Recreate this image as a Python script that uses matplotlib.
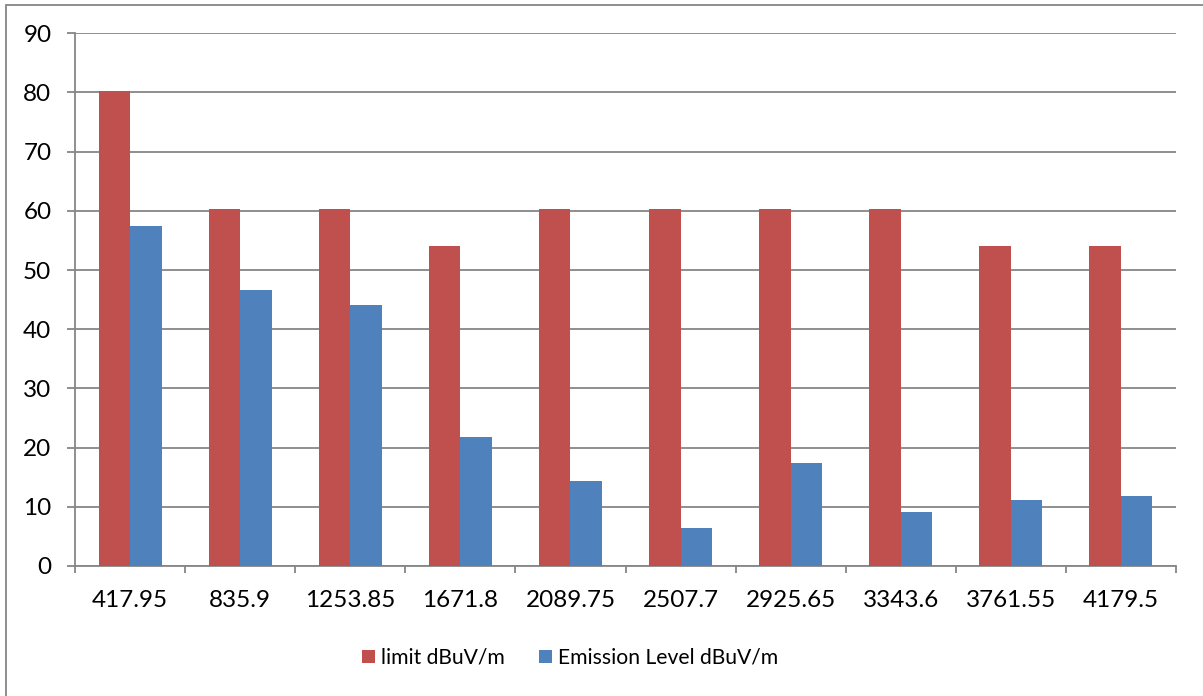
import numpy as np
import matplotlib
matplotlib.use('Agg')
import matplotlib.pyplot as plt
from matplotlib.patches import Rectangle

plt.rcParams['font.family'] = ['Lato', 'DejaVu Sans']

freqs = ['417.95', '835.9', '1253.85', '1671.8', '2089.75',
         '2507.7', '2925.65', '3343.6', '3761.55', '4179.5']
limit = [80.3, 60.3, 60.3, 54.0, 60.3, 60.3, 60.3, 60.3, 54.0, 54.0]
emission = [57.4, 46.7, 44.1, 21.8, 14.4, 6.5, 17.4, 9.1, 11.1, 11.9]

red = '#C0504D'
blue = '#4F81BD'
grey = '#868686'
fs = 17.5

fig = plt.figure(figsize=(12.03, 6.96), dpi=100)
ax = fig.add_axes([75 / 1203, 1 - 566 / 696, (1176 - 75) / 1203, (566 - 33.3) / 696])

# chart frame, cut off on the right and bottom
fig.patches.append(Rectangle((6 / 1203, -0.1), 1.2, 1 - 4.5 / 696 + 0.1,
                             transform=fig.transFigure, fill=False,
                             edgecolor=grey, linewidth=1.3))

x = np.arange(len(freqs))
w = 1 / 3.5
ax.bar(x - w / 2, limit, w, color=red, label='limit dBuV/m', zorder=3)
ax.bar(x + w / 2, emission, w, color=blue, label='Emission Level dBuV/m', zorder=3)

ax.set_xlim(-0.5, len(freqs) - 0.5)
ax.set_ylim(0, 90)
ax.set_yticks(range(0, 91, 10))
ax.set_xticks(x)
ax.set_xticklabels(freqs)
ax.set_xticks(np.arange(-0.5, len(freqs)), minor=True)
ax.tick_params(axis='x', which='major', length=0, pad=17, labelsize=fs)
ax.tick_params(axis='x', which='minor', length=5, width=1.3, color=grey)
ax.tick_params(axis='y', length=6, width=1.3, color=grey, pad=11, labelsize=fs)
ax.yaxis.grid(True, color=grey, linewidth=1.3, zorder=0)
for s in ['top', 'right']:
    ax.spines[s].set_visible(False)
for s in ['left', 'bottom']:
    ax.spines[s].set_color(grey)
    ax.spines[s].set_linewidth(1.3)
ax.set_axisbelow(True)

fig.legend(loc='center', bbox_to_anchor=(570 / 1203, 1 - 658 / 696), ncol=2,
           frameon=False, fontsize=15.2, handlelength=0.62, handleheight=0.62,
           handletextpad=0.28, columnspacing=1.66)

fig.savefig('out.png', dpi=100)
